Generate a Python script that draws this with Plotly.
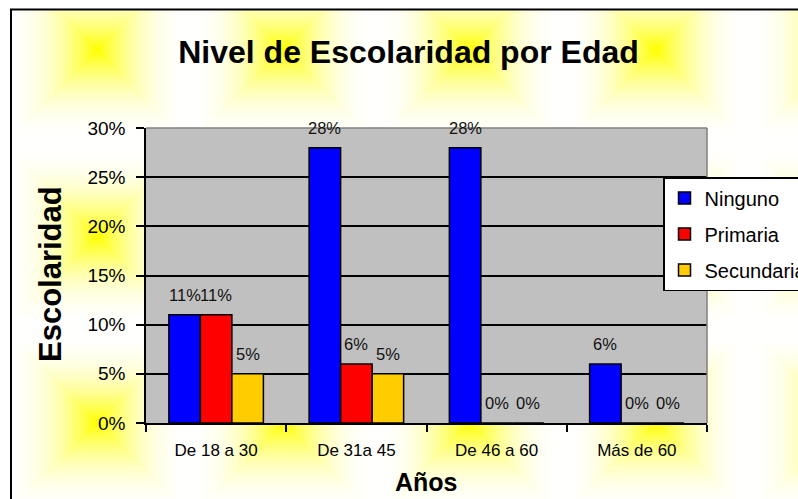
import base64, struct, zlib
import numpy as np
import plotly.graph_objects as go

# ---------------- data ----------------
categories = ["De 18 a 30", "De 31a 45", "De 46 a 60", "Más de 60"]
series_names = ["Ninguno", "Primaria", "Secundaria"]
ninguno = [11, 28, 28, 6]
primaria = [11, 6, 0, 0]
secundaria = [5, 5, 0, 0]
series_values = [ninguno, primaria, secundaria]
series_colors = ["#0000FF", "#FF0000", "#FFCC00"]
y_ticks = [0, 5, 10, 15, 20, 25, 30]
y_tick_labels = ["0%", "5%", "10%", "15%", "20%", "25%", "30%"]

# ---------------- geometry ----------------
W, H = 798, 499
L, R, T, B = 146, 91, 128, 76
PW, PH = W - L - R, H - T - B
BARGAP = 0.326

def px_x(p):
    return (p - L) / PW

def px_y(p):
    return (H - B - p) / PH

# ---------------- background texture (decorative) ----------------
def make_bg():
    tile = 186.3
    cx0, cy0 = 97.0, 50.0
    xs = np.arange(W) + 0.5
    ys = np.arange(H) + 0.5
    dx = np.abs(((xs - cx0 + tile / 2) % tile) - tile / 2)
    dy = np.abs(((ys - cy0 + tile / 2) % tile) - tile / 2)
    t = np.maximum(dx[None, :], dy[:, None]) / (tile / 2)
    t = np.clip(t, 0, 1)
    bch = 255 * (1 - (1 - t) ** 2.2)
    img = np.zeros((H, W, 3), dtype=np.uint8)
    img[..., 0] = 255
    img[..., 1] = 255
    img[..., 2] = np.clip(bch, 0, 255).astype(np.uint8)
    img[:, :11, :] = 255
    img[:9, :, :] = 255
    raw = b"".join(b"\x00" + img[r].tobytes() for r in range(H))

    def chunk(tag, data):
        c = struct.pack(">I", len(data)) + tag + data
        return c + struct.pack(">I", zlib.crc32(tag + data) & 0xFFFFFFFF)

    png = b"\x89PNG\r\n\x1a\n"
    png += chunk(b"IHDR", struct.pack(">IIBBBBB", W, H, 8, 2, 0, 0, 0))
    png += chunk(b"IDAT", zlib.compress(raw, 9))
    png += chunk(b"IEND", b"")
    return "data:image/png;base64," + base64.b64encode(png).decode()

FONT = "Liberation Sans, Arial, sans-serif"

fig = go.Figure()
for name, vals, col in zip(series_names, series_values, series_colors):
    fig.add_trace(go.Bar(
        x=categories, y=vals, name=name,
        marker=dict(color=col, line=dict(color="black", width=1.5)),
        legendgroup=name,
    ))

# data labels
nser = len(series_names)
bw = (1 - BARGAP) / nser
annotations = []
for i, vals in enumerate(series_values):
    for j, v in enumerate(vals):
        annotations.append(dict(
            x=j + (i - (nser - 1) / 2) * bw, y=v, xref="x", yref="y",
            text=f"{v}%", showarrow=False, yshift=20, yanchor="middle",
            font=dict(family=FONT, size=16.5, color="#111111"),
        ))
# axis titles
annotations.append(dict(
    x=px_x(50), y=px_y(274), xref="paper", yref="paper", text="<b>Escolaridad</b>",
    textangle=-90, showarrow=False, xanchor="center", yanchor="middle",
    font=dict(family=FONT, size=31, color="black")))
annotations.append(dict(
    x=px_x(426), y=px_y(482), xref="paper", yref="paper", text="<b>Años</b>",
    showarrow=False, xanchor="center", yanchor="middle",
    font=dict(family=FONT, size=25, color="black")))

shapes = [
    dict(type="rect", xref="paper", yref="paper", x0=0, x1=1, y0=0, y1=1,
         fillcolor="#C0C0C0", line=dict(width=0), layer="below"),
    dict(type="rect", xref="paper", yref="paper",
         x0=px_x(11), x1=px_x(820), y0=px_y(520), y1=px_y(9.5),
         line=dict(color="black", width=2), layer="below"),
    dict(type="line", xref="paper", yref="paper", x0=0, x1=1, y0=1, y1=1,
         line=dict(color="#808080", width=1.5), layer="above"),
    dict(type="line", xref="paper", yref="paper", x0=1, x1=1, y0=0, y1=1,
         line=dict(color="#808080", width=1.5), layer="above"),
]

fig.update_layout(
    width=W, height=H,
    margin=dict(l=L, r=R, t=T, b=B, autoexpand=False),
    paper_bgcolor="white", plot_bgcolor="rgba(0,0,0,0)",
    barmode="group", bargap=BARGAP, bargroupgap=0,
    font=dict(family=FONT, color="black"),
    title=dict(text="<b>Nivel de Escolaridad por Edad</b>",
               x=px_x(408.5), xref="paper", xanchor="center",
               y=1 - 52 / H, yref="container", yanchor="middle",
               font=dict(family=FONT, size=32, color="black")),
    xaxis=dict(type="category", showline=True, linecolor="black", linewidth=1.5,
               ticks="outside", tickson="boundaries", ticklen=7, tickwidth=1.5,
               tickcolor="black", showgrid=False,
               tickfont=dict(family=FONT, size=17, color="black"),
               ticklabelstandoff=11, fixedrange=True),
    yaxis=dict(range=[0, 30], tickmode="array", tickvals=y_ticks, ticktext=y_tick_labels,
               showline=True,
               linecolor="black", linewidth=1.5, ticks="outside", ticklen=8,
               tickwidth=1.5, tickcolor="black", showgrid=True, gridcolor="black",
               gridwidth=1.5, zeroline=False,
               tickfont=dict(family=FONT, size=19, color="black"),
               ticklabelstandoff=7, fixedrange=True),
    legend=dict(x=px_x(663), y=px_y(177), xanchor="left", yanchor="top",
                xref="paper", yref="paper",
                bgcolor="white", bordercolor="black", borderwidth=1.5,
                font=dict(family=FONT, size=20, color="black"),
                itemwidth=30, tracegroupgap=7, traceorder="grouped"),
    annotations=annotations,
    shapes=shapes,
    images=[dict(source=make_bg(), xref="paper", yref="paper",
                 x=-L / PW, y=1 + T / PH, sizex=W / PW, sizey=H / PH,
                 xanchor="left", yanchor="top", sizing="stretch", layer="below")],
)

fig.write_html(
    "out.html", config={"displayModeBar": False},
    post_script="document.body.style.margin='0';document.body.style.overflow='hidden';",
)
